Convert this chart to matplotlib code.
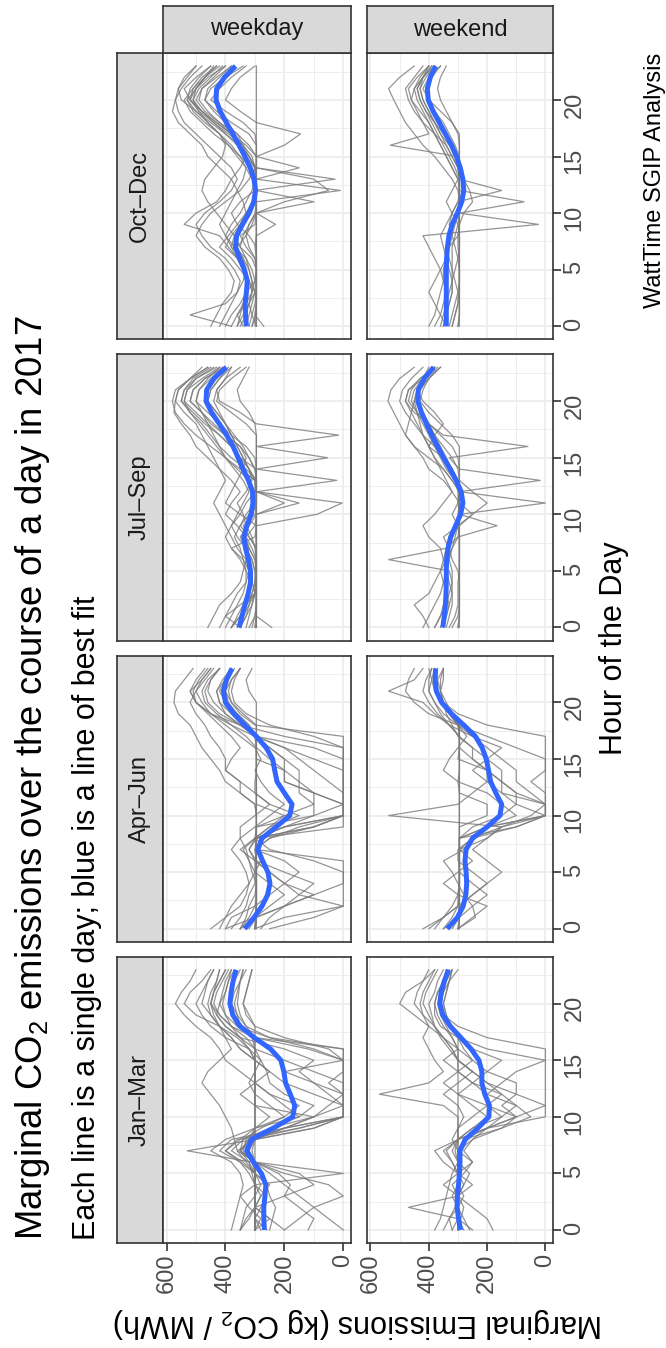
import numpy as np
import matplotlib
matplotlib.use("Agg")
import matplotlib.pyplot as plt

plt.rcParams['font.family'] = ['Liberation Sans', 'DejaVu Sans']
plt.rcParams['mathtext.fontset'] = 'custom'
plt.rcParams['mathtext.rm'] = 'Liberation Sans'
plt.rcParams['mathtext.it'] = 'Liberation Sans:italic'

# hours 0..23, one string per day (kg CO2 / MWh)
hours = np.arange(24)
quarters = ['Jan–Mar', 'Apr–Jun', 'Jul–Sep', 'Oct–Dec']
day_types = ['weekday', 'weekend']

jan_mar_weekday = [
    "300 300 300 300 300 300 300 320 300 300 300 300 300 300 300 300 300 300 330 360 380 370 350 330",
    "250 240 230 250 260 300 350 420 380 200 0 0 0 0 0 0 120 300 380 420 450 440 420 400",
    "380 370 360 350 340 350 380 450 400 300 150 100 200 250 260 280 320 400 450 480 500 480 460 440",
    "120 100 150 200 180 220 300 350 320 150 0 0 0 50 0 0 0 300 360 380 390 380 370 350",
    "300 300 300 300 300 300 310 530 300 200 100 300 300 300 300 300 300 310 350 360 370 360 350 340",
    "200 250 300 280 250 300 300 320 310 300 200 150 250 300 350 400 420 450 500 540 570 550 520 500",
    "350 320 300 300 300 310 320 350 340 250 100 0 0 100 200 0 100 250 330 350 360 355 350 340",
    "300 300 300 300 300 300 300 300 300 300 300 300 300 300 300 300 300 300 300 320 340 330 320 310",
    "0 50 100 150 200 250 300 340 330 200 0 0 100 200 250 300 350 380 420 450 460 450 430 420",
    "280 300 280 260 300 300 340 400 350 300 250 300 350 300 250 300 320 350 400 430 420 400 390 380",
    "300 250 300 200 100 150 300 330 300 100 0 0 0 0 0 0 50 200 300 330 340 330 320 310",
    "350 340 330 300 280 300 330 360 370 380 400 420 450 480 460 420 380 400 420 450 480 470 460 440",
    "260 300 300 300 300 300 300 310 300 250 150 200 250 300 300 300 350 380 420 440 450 440 430 420",
    "300 280 320 350 300 0 300 350 300 200 100 50 0 0 0 0 0 250 360 400 420 410 400 380",
    "300 300 300 300 300 300 320 380 340 280 200 250 300 320 300 280 300 330 380 420 440 430 410 390",
    "350 330 300 280 300 320 350 400 360 150 0 0 50 100 150 100 200 350 400 430 450 440 420 400",
    "300 300 300 300 300 300 300 350 320 300 300 300 300 300 300 300 320 360 420 500 540 520 480 450",
    "200 150 100 0 50 200 300 360 300 100 0 0 0 0 100 200 300 350 380 400 410 400 390 370",
]
jan_mar_weekend = [
    "300 300 300 300 300 300 300 300 300 300 300 300 300 300 300 300 300 300 320 340 350 340 330 320",
    "250 300 470 300 250 300 350 380 300 200 0 0 100 200 250 300 320 350 400 450 500 480 420 380",
    "380 360 350 340 330 320 300 300 280 150 50 100 200 150 100 0 200 300 360 380 380 370 350 340",
    "180 200 250 300 350 300 250 300 320 300 300 350 570 400 350 380 400 420 400 420 430 420 400 380",
    "300 300 300 300 300 300 300 300 280 200 100 0 0 0 0 0 0 200 300 350 360 350 330 300",
    "320 330 310 300 280 300 320 350 300 250 200 250 300 350 300 250 300 350 380 390 400 380 370 350",
    "300 290 280 300 320 280 250 280 250 200 150 200 150 250 300 350 300 320 340 360 370 360 350 340",
    "280 300 300 280 300 300 300 300 250 150 100 150 100 100 200 250 280 300 330 340 350 340 330 320",
    "350 330 300 300 280 260 300 320 300 300 280 300 350 300 250 300 330 360 380 420 450 440 420 400",
    "300 300 300 300 300 300 300 310 300 250 150 100 150 200 250 300 300 320 350 370 380 370 350 330",
    "260 280 300 320 300 300 320 340 300 200 100 200 300 250 200 150 250 300 330 350 360 350 340 320",
    "320 300 300 300 300 300 300 300 300 300 250 200 200 250 300 300 320 350 380 400 420 410 390 370",
]
apr_jun_weekday = [
    "295 295 295 295 295 295 295 295 295 295 295 295 295 295 295 295 295 295 295 340 380 390 380 350",
    "400 300 200 100 0 0 100 250 300 100 0 0 0 0 0 0 0 200 350 450 500 520 480 450",
    "450 400 350 330 320 330 350 380 350 300 250 200 250 280 300 280 300 350 400 450 480 500 470 440",
    "300 200 0 0 0 0 0 295 295 0 0 0 0 0 0 0 100 295 350 400 420 430 400 380",
    "350 320 300 295 295 310 320 340 300 250 150 250 300 350 400 380 350 380 420 460 500 510 490 460",
    "250 100 0 150 200 250 300 320 295 200 0 0 100 150 200 250 295 330 380 430 470 480 460 420",
    "350 330 320 300 295 295 295 300 295 295 295 300 350 400 420 450 480 500 520 560 575 570 540 510",
    "300 295 295 295 295 295 295 295 295 100 0 0 0 0 0 0 0 0 300 350 380 400 380 350",
    "380 350 330 320 300 300 320 330 350 350 300 250 300 300 295 295 295 300 320 360 390 400 390 370",
    "320 295 200 100 200 250 300 350 300 200 100 100 150 150 150 200 250 295 330 380 400 410 400 380",
    "300 295 295 295 295 295 295 295 295 295 295 295 295 295 295 295 295 295 295 295 295 320 330 310",
    "420 400 380 350 320 300 280 295 300 295 200 100 100 200 200 200 250 300 350 400 440 460 450 420",
    "330 300 295 295 295 295 295 295 295 295 295 300 350 350 400 400 420 450 470 500 520 500 480 450",
    "280 250 200 150 100 200 295 300 250 100 0 0 0 0 0 0 0 100 250 330 370 380 370 350",
    "350 300 250 200 250 300 300 295 295 200 0 0 0 50 100 150 200 295 350 420 460 470 450 420",
    "300 295 295 295 295 295 295 295 295 295 100 0 100 200 200 295 295 295 320 360 400 420 400 380",
    "400 380 300 250 200 150 200 300 250 150 0 0 0 0 0 100 200 300 380 450 500 520 500 470",
    "300 300 295 295 295 295 295 320 300 250 200 295 295 295 295 295 295 300 330 380 420 430 410 380",
]
apr_jun_weekend = [
    "295 295 295 295 295 295 295 295 295 295 295 295 295 295 295 295 295 295 295 330 360 380 380 370",
    "420 350 300 250 200 250 300 300 250 100 0 0 0 0 0 0 100 200 300 400 450 480 470 450",
    "350 300 295 295 295 295 295 295 295 200 0 0 150 200 250 200 150 250 330 380 420 538 450 420",
    "300 250 200 300 350 300 250 295 200 150 538 300 250 200 200 300 295 295 300 330 350 360 360 350",
    "380 350 320 300 295 295 295 295 295 100 0 0 0 50 0 0 0 0 200 300 350 380 380 380",
    "300 295 295 250 200 150 200 250 200 150 50 0 100 150 200 250 295 295 330 360 380 400 400 390",
    "350 320 300 295 295 295 295 295 295 295 200 200 295 300 295 295 295 295 300 330 360 380 390 400",
    "320 295 295 295 295 295 295 295 295 200 0 100 150 150 150 200 250 300 320 340 350 360 370 350",
    "300 240 250 280 300 320 350 280 240 200 100 150 200 300 350 330 300 270 300 320 340 360 350 350",
    "330 300 295 295 295 295 295 295 295 250 150 100 100 150 200 250 250 295 330 370 400 420 410 390",
    "300 295 250 200 250 295 295 295 250 150 0 0 50 100 100 150 200 250 300 350 380 400 390 380",
    "400 350 300 300 295 295 295 295 295 295 295 295 295 295 295 295 295 295 295 320 350 370 380 380",
]
jul_sep_weekday = [
    "295 295 295 295 295 295 295 295 295 295 295 295 295 295 295 295 295 295 330 380 430 420 380 330",
    "380 360 340 320 310 320 340 380 400 380 350 330 300 300 350 400 450 500 540 570 580 570 520 460",
    "350 330 310 300 300 295 295 295 320 340 300 295 295 295 330 380 420 450 480 520 540 530 500 430",
    "243 295 295 295 295 295 295 295 295 295 90 4 295 22 295 53 295 16 295 350 420 430 400 350",
    "420 400 380 360 330 320 330 360 380 400 420 440 420 400 420 440 460 480 500 540 570 560 520 480",
    "300 295 295 295 295 300 310 330 350 320 295 295 295 295 295 300 330 380 420 460 500 490 450 400",
    "350 400 350 300 310 330 350 380 300 295 350 400 380 360 340 330 350 400 450 480 520 510 470 400",
    "460 440 420 380 350 340 330 320 340 330 310 295 295 300 320 340 360 380 400 420 440 430 400 380",
    "295 295 295 295 295 295 295 295 295 295 295 200 295 295 295 350 380 420 460 500 540 530 480 420",
    "330 320 310 300 295 295 300 320 330 360 400 380 350 380 420 460 500 520 550 575 570 560 520 460",
    "380 350 330 300 295 295 295 310 330 300 295 150 295 300 350 360 380 400 420 440 470 460 430 400",
    "400 380 360 340 330 330 340 350 370 350 320 310 300 320 360 400 420 440 460 480 500 490 460 420",
    "310 300 295 295 295 295 295 295 295 295 295 295 295 295 295 295 295 295 300 320 350 360 340 320",
    "350 330 320 310 300 295 295 300 310 330 340 360 330 310 320 350 380 420 470 510 550 540 500 440",
    "320 300 295 295 295 295 295 295 320 350 330 300 295 295 300 320 350 400 440 480 520 510 470 410",
    "380 350 330 310 300 300 310 330 360 380 360 340 320 340 370 400 430 460 490 520 550 540 510 450",
    "300 295 295 295 295 295 295 295 295 295 295 295 295 295 320 340 360 380 400 430 460 450 420 380",
    "360 340 320 300 295 295 300 320 340 330 310 295 295 295 300 320 340 370 400 430 460 450 420 390",
]
jul_sep_weekend = [
    "295 295 295 295 295 295 295 295 295 295 295 295 295 295 295 295 295 320 360 400 430 420 400 360",
    "380 360 340 330 320 330 538 340 330 300 295 0 295 320 350 400 450 480 500 520 540 530 500 450",
    "350 340 330 320 330 340 350 340 300 166 295 300 295 18 295 330 60 350 400 450 480 470 430 380",
    "420 400 380 360 350 340 330 320 310 300 295 295 295 300 320 350 380 420 450 480 500 490 460 420",
    "320 300 295 295 295 295 295 295 295 295 250 200 250 295 295 300 320 360 400 440 470 460 430 380",
    "400 420 450 400 380 360 350 360 400 420 380 350 320 350 400 420 450 480 470 460 450 440 420 400",
    "300 295 295 295 295 300 320 330 350 300 250 295 295 300 320 350 400 380 350 380 420 440 400 360",
    "360 340 330 340 350 360 340 320 300 295 295 295 320 340 360 380 400 420 440 460 480 470 420 380",
    "330 310 300 300 300 295 295 295 295 300 320 300 300 310 340 360 380 400 420 440 460 450 420 380",
    "340 330 320 320 320 320 330 330 320 300 295 295 295 300 320 340 360 380 400 420 440 430 400 370",
    "300 295 295 295 295 295 295 295 295 295 295 295 295 295 300 320 350 380 400 420 440 430 410 380",
    "380 360 350 340 340 340 340 330 320 310 300 295 295 320 350 380 400 420 430 440 450 440 420 390",
]
oct_dec_weekday = [
    "300 295 295 295 295 295 295 295 295 295 295 295 295 295 295 295 295 320 380 430 470 450 400 340",
    "340 360 330 310 320 350 380 420 390 360 330 300 295 295 310 350 390 440 480 520 540 510 470 420",
    "420 400 380 360 350 370 400 450 480 500 470 420 380 360 380 420 460 500 540 560 570 560 530 500",
    "295 295 295 295 295 295 300 330 350 300 295 200 50 100 295 295 320 360 420 470 500 480 430 380",
    "380 520 400 360 340 330 360 390 420 540 500 430 400 380 350 330 340 380 430 480 520 540 500 450",
    "310 300 295 300 320 330 340 360 330 310 295 295 10 295 300 330 360 400 450 500 530 500 460 400",
    "360 350 340 330 320 340 360 400 380 350 330 340 360 380 420 460 480 520 560 580 570 550 520 480",
    "270 300 295 295 295 295 295 300 295 230 295 295 295 295 150 295 295 300 340 400 450 420 380 330",
    "450 430 410 380 370 390 420 470 500 480 450 400 350 320 300 310 340 390 440 490 520 500 470 440",
    "295 310 320 300 295 295 310 350 340 320 295 100 295 295 295 295 200 145 295 350 400 380 350 300",
    "330 320 310 300 310 320 330 350 370 400 430 460 480 470 440 410 400 420 460 500 550 560 540 500",
    "400 380 350 330 300 295 295 295 320 360 380 350 300 28 295 295 330 380 430 480 510 490 450 410",
    "310 295 295 295 295 295 295 295 295 295 295 295 295 295 295 295 295 295 295 295 295 295 295 295",
    "360 340 320 310 300 310 330 370 400 420 400 380 360 340 330 350 380 420 470 510 530 520 490 450",
    "320 310 300 295 295 295 300 320 330 320 300 295 295 295 300 320 350 380 420 460 490 480 440 400",
    "350 330 320 310 310 320 340 380 400 380 350 330 310 300 300 320 350 400 440 480 520 510 480 430",
    "295 295 295 295 295 295 295 295 295 295 295 295 295 295 295 320 340 360 400 440 470 460 420 380",
    "380 360 340 330 330 340 360 380 370 350 330 310 300 310 330 360 390 420 460 490 510 500 470 430",
]
oct_dec_weekend = [
    "295 295 295 295 295 295 295 295 295 295 295 295 295 295 295 295 295 295 320 360 400 420 400 360",
    "380 360 350 340 350 360 380 400 420 24 295 295 300 320 350 380 420 450 480 500 520 538 500 450",
    "350 340 330 320 320 330 340 330 300 295 295 73 295 295 300 320 340 380 420 450 470 480 450 420",
    "320 310 300 300 295 295 300 310 320 330 320 300 150 295 295 300 532 400 420 440 460 450 420 400",
    "300 295 295 295 295 295 295 295 295 295 295 295 295 295 295 295 295 300 320 340 360 370 360 340",
    "400 380 370 360 350 350 340 330 320 310 300 295 295 300 320 340 360 380 400 430 460 470 440 400",
    "340 360 380 400 380 360 340 350 360 340 320 300 295 295 300 310 330 360 380 400 420 430 420 380",
    "330 320 310 300 310 320 330 340 330 320 300 295 295 295 310 330 350 370 390 410 430 440 420 390",
    "360 350 340 330 320 310 300 295 295 300 320 340 320 300 320 340 360 380 400 420 440 450 430 400",
    "320 310 300 295 295 295 295 300 300 295 295 295 295 295 300 320 340 360 380 400 420 430 410 380",
    "350 340 330 320 320 320 320 320 310 300 295 295 295 295 295 300 320 350 380 410 430 440 420 390",
    "300 295 295 295 295 295 295 295 295 295 280 250 260 280 295 295 310 330 350 380 400 410 390 360",
]

# blue line of best fit
fit_jan_mar_weekday = [268, 270, 270, 266, 263, 278, 305, 328, 312, 238, 172, 165, 180, 196, 202, 212, 247, 302, 350, 375, 385, 381, 374, 364]
fit_jan_mar_weekend = [291, 298, 303, 302, 298, 295, 293, 293, 275, 232, 194, 192, 208, 218, 218, 228, 255, 290, 326, 352, 362, 358, 347, 332]
fit_apr_jun_weekday = [335, 303, 276, 257, 249, 256, 274, 290, 276, 228, 182, 174, 200, 225, 233, 240, 262, 295, 335, 372, 400, 407, 397, 378]
fit_apr_jun_weekend = [337, 302, 282, 273, 270, 272, 276, 272, 250, 200, 156, 150, 170, 188, 195, 203, 217, 240, 280, 322, 356, 374, 378, 377]
fit_jul_sep_weekday = [354, 344, 334, 323, 315, 315, 322, 332, 338, 327, 313, 307, 308, 322, 340, 357, 374, 396, 421, 447, 466, 464, 440, 397]
fit_jul_sep_weekend = [352, 347, 343, 341, 340, 340, 339, 334, 325, 308, 291, 283, 289, 306, 327, 349, 370, 390, 408, 425, 438, 436, 416, 383]
fit_oct_dec_weekday = [329, 332, 333, 329, 326, 336, 352, 366, 362, 342, 320, 304, 298, 303, 316, 334, 354, 375, 397, 418, 432, 430, 403, 366]
fit_oct_dec_weekend = [340, 340, 340, 340, 340, 340, 339, 336, 331, 320, 302, 287, 280, 283, 292, 305, 322, 343, 364, 385, 402, 405, 395, 377]

days = {
    ('Jan–Mar', 'weekday'): (jan_mar_weekday, fit_jan_mar_weekday),
    ('Jan–Mar', 'weekend'): (jan_mar_weekend, fit_jan_mar_weekend),
    ('Apr–Jun', 'weekday'): (apr_jun_weekday, fit_apr_jun_weekday),
    ('Apr–Jun', 'weekend'): (apr_jun_weekend, fit_apr_jun_weekend),
    ('Jul–Sep', 'weekday'): (jul_sep_weekday, fit_jul_sep_weekday),
    ('Jul–Sep', 'weekend'): (jul_sep_weekend, fit_jul_sep_weekend),
    ('Oct–Dec', 'weekday'): (oct_dec_weekday, fit_oct_dec_weekday),
    ('Oct–Dec', 'weekend'): (oct_dec_weekend, fit_oct_dec_weekend),
}

W, H = 666, 1348
fig = plt.figure(figsize=(W / 100, H / 100), dpi=100)


def box(x0, y0, x1, y1):
    # pixel box (top-left origin) -> figure rect
    return [x0 / W, 1 - y1 / H, (x1 - x0) / W, (y1 - y0) / H]


def fpos(x, y):
    return x / W, 1 - y / H


dark = '#333333'
cols = [(163, 351), (367, 553)]
top0, ph, gap = 53, 286.25, 15

for i in range(4):
    q = quarters[3 - i]          # Oct-Dec on top (chart is turned on its side)
    y0 = top0 + i * (ph + gap)
    y1 = y0 + ph

    sax = fig.add_axes(box(117, y0, 163, y1))
    sax.set_facecolor('#D9D9D9')
    sax.set_xticks([])
    sax.set_yticks([])
    for s in sax.spines.values():
        s.set_color(dark)
        s.set_linewidth(1.2)
    sax.text(0.5, 0.5, q, rotation=90, ha='center', va='center',
             fontsize=17, color='#1A1A1A', transform=sax.transAxes)

    for j, dt in enumerate(day_types):
        lines, fit = days[(q, dt)]
        ax = fig.add_axes(box(cols[j][0], y0, cols[j][1], y1))
        ax.set_xlim(612, -26)
        ax.set_ylim(-1.15, 24.15)
        ax.set_xticks([0, 200, 400, 600])
        ax.set_xticks([100, 300, 500], minor=True)
        ax.set_yticks([0, 5, 10, 15, 20])
        ax.set_yticks([2.5, 7.5, 12.5, 17.5, 22.5], minor=True)
        ax.grid(which='major', color='#EBEBEB', lw=1.2)
        ax.grid(which='minor', color='#EBEBEB', lw=0.6)
        ax.set_axisbelow(True)

        for s in lines:
            vals = np.array(s.split(), dtype=float)
            ax.plot(vals, hours, color='#7A7A7A', alpha=0.8, lw=0.9)
        ax.plot(fit, hours, color='#3366FF', lw=3.6, solid_capstyle='butt',
                solid_joinstyle='round')

        for s in ax.spines.values():
            s.set_color(dark)
            s.set_linewidth(1.2)

        ax.tick_params(which='minor', length=0)
        if i == 3:
            ax.tick_params(axis='x', which='major', length=5.6, width=1.2, color=dark,
                           labelsize=17, labelcolor='#4D4D4D', labelrotation=90, pad=2)
        else:
            ax.tick_params(axis='x', which='major', length=0, labelbottom=False)
        if j == 1:
            ax.yaxis.tick_right()
            ax.tick_params(axis='y', which='major', length=5.6, width=1.2, color=dark,
                           labelsize=17, labelcolor='#4D4D4D', labelrotation=90, pad=2)
        else:
            ax.tick_params(axis='y', which='major', length=0, labelleft=False)

        if i == 0:
            tax = fig.add_axes(box(cols[j][0], 6, cols[j][1], 53))
            tax.set_facecolor('#D9D9D9')
            tax.set_xticks([])
            tax.set_yticks([])
            for s in tax.spines.values():
                s.set_color(dark)
                s.set_linewidth(1.2)
            tax.text(0.5, 0.5, dt, ha='center', va='center', fontsize=17,
                     color='#1A1A1A', transform=tax.transAxes)

# titles, axis titles and caption, all turned with the chart
fig.text(*fpos(42, 1240), r'Marginal CO$_2$ emissions over the course of a day in 2017',
         rotation=90, rotation_mode='anchor', ha='left', va='baseline', fontsize=26.3)
fig.text(*fpos(94.5, 1240), 'Each line is a single day; blue is a line of best fit',
         rotation=90, rotation_mode='anchor', ha='left', va='baseline', fontsize=22)
fig.text(*fpos(661, 53), 'WattTime SGIP Analysis',
         rotation=90, rotation_mode='anchor', ha='right', va='baseline', fontsize=17)
fig.text(*fpos(622, 648), 'Hour of the Day',
         rotation=90, rotation_mode='anchor', ha='center', va='baseline', fontsize=22)
fig.text(*fpos(358, 1315), r'Marginal Emissions (kg CO$_2$ / MWh)',
         rotation=180, rotation_mode='anchor', ha='center', va='baseline', fontsize=22)

fig.savefig('out.png', dpi=100)
